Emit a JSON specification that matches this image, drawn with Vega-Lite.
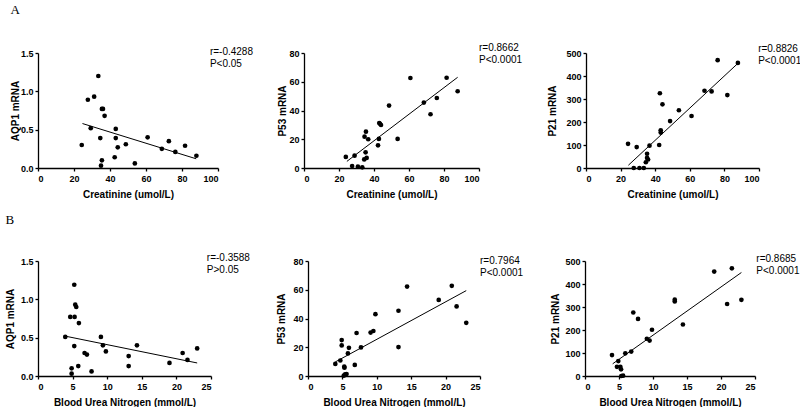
{
"$schema": "https://vega.github.io/schema/vega-lite/v6.json",
"background": "white",
"padding": {"left": 5, "top": 3, "right": 0, "bottom": 0},
"config": {
  "view": {"stroke": null},
  "font": "Liberation Sans",
  "axis": {"grid": false, "domainColor": "black", "tickColor": "black", "domainWidth": 1.3, "tickWidth": 1.3, "tickSize": 3,
    "labelFont": "Liberation Sans", "labelFontWeight": "bold", "labelFontSize": 9, "labelColor": "black", "labelPadding": 2,
    "titleFont": "Liberation Sans", "titleFontWeight": "bold", "titleFontSize": 10, "titleColor": "black"},
  "axisX": {"titlePadding": 5.5, "labelPadding": 3.5},
  "title": {"font": "Liberation Serif", "fontSize": 13, "fontWeight": "normal", "anchor": "start", "color": "black", "offset": 26}
},
"data": {"values": [
{"panel":"A1","kind":"pt","x":24.3,"y":0.30},{"panel":"A1","kind":"pt","x":27.7,"y":0.89},{"panel":"A1","kind":"pt","x":29.3,"y":0.52},{"panel":"A1","kind":"pt","x":31.2,"y":0.93},{"panel":"A1","kind":"pt","x":33.5,"y":1.20},{"panel":"A1","kind":"pt","x":34.6,"y":0.39},{"panel":"A1","kind":"pt","x":35.5,"y":0.77},{"panel":"A1","kind":"pt","x":36.1,"y":0.77},{"panel":"A1","kind":"pt","x":37.0,"y":0.68},{"panel":"A1","kind":"pt","x":35.5,"y":0.10},{"panel":"A1","kind":"pt","x":35.0,"y":0.03},{"panel":"A1","kind":"pt","x":42.6,"y":0.14},{"panel":"A1","kind":"pt","x":43.2,"y":0.51},{"panel":"A1","kind":"pt","x":43.2,"y":0.39},{"panel":"A1","kind":"pt","x":44.3,"y":0.27},{"panel":"A1","kind":"pt","x":48.8,"y":0.31},{"panel":"A1","kind":"pt","x":53.8,"y":0.06},{"panel":"A1","kind":"pt","x":60.9,"y":0.40},{"panel":"A1","kind":"pt","x":68.8,"y":0.25},{"panel":"A1","kind":"pt","x":72.7,"y":0.35},{"panel":"A1","kind":"pt","x":76.3,"y":0.21},{"panel":"A1","kind":"pt","x":81.7,"y":0.29},{"panel":"A1","kind":"pt","x":88.0,"y":0.16},
{"panel":"A1","kind":"ln","x":24.7,"y":0.58},{"panel":"A1","kind":"ln","x":87.9,"y":0.12},
{"panel":"A1","kind":"tx","x":95.5,"y":1.578,"label":["r=-0.4288","P<0.05"]},
{"panel":"A2","kind":"pt","x":23.9,"y":7.7},{"panel":"A2","kind":"pt","x":27.5,"y":1.4},{"panel":"A2","kind":"pt","x":28.9,"y":8.6},{"panel":"A2","kind":"pt","x":30.8,"y":0.9},{"panel":"A2","kind":"pt","x":33.3,"y":0.5},{"panel":"A2","kind":"pt","x":34.6,"y":21.8},{"panel":"A2","kind":"pt","x":35.4,"y":25.3},{"panel":"A2","kind":"pt","x":35.2,"y":10.9},{"panel":"A2","kind":"pt","x":34.4,"y":6.0},{"panel":"A2","kind":"pt","x":35.8,"y":7.0},{"panel":"A2","kind":"pt","x":36.7,"y":20.0},{"panel":"A2","kind":"pt","x":42.3,"y":15.8},{"panel":"A2","kind":"pt","x":42.8,"y":20.2},{"panel":"A2","kind":"pt","x":43.0,"y":31.3},{"panel":"A2","kind":"pt","x":44.0,"y":29.9},{"panel":"A2","kind":"pt","x":43.4,"y":30.8},{"panel":"A2","kind":"pt","x":48.6,"y":43.4},{"panel":"A2","kind":"pt","x":53.5,"y":20.2},{"panel":"A2","kind":"pt","x":60.8,"y":62.6},{"panel":"A2","kind":"pt","x":68.5,"y":45.5},{"panel":"A2","kind":"pt","x":72.3,"y":37.4},{"panel":"A2","kind":"pt","x":75.9,"y":48.7},{"panel":"A2","kind":"pt","x":81.5,"y":62.8},{"panel":"A2","kind":"pt","x":87.8,"y":53.4},
{"panel":"A2","kind":"ln","x":24.5,"y":4.6},{"panel":"A2","kind":"ln","x":87.8,"y":63.1},
{"panel":"A2","kind":"tx","x":100,"y":87.2,"label":["r=0.8662","P<0.0001"]},
{"panel":"A3","kind":"pt","x":24.3,"y":105},{"panel":"A3","kind":"pt","x":27.6,"y":0},{"panel":"A3","kind":"pt","x":29.3,"y":91},{"panel":"A3","kind":"pt","x":30.9,"y":0},{"panel":"A3","kind":"pt","x":33.4,"y":0},{"panel":"A3","kind":"pt","x":34.6,"y":25},{"panel":"A3","kind":"pt","x":35.3,"y":62},{"panel":"A3","kind":"pt","x":35.3,"y":44},{"panel":"A3","kind":"pt","x":35.9,"y":37},{"panel":"A3","kind":"pt","x":36.7,"y":97},{"panel":"A3","kind":"pt","x":42.3,"y":100},{"panel":"A3","kind":"pt","x":42.7,"y":325},{"panel":"A3","kind":"pt","x":43.2,"y":164},{"panel":"A3","kind":"pt","x":43.2,"y":154},{"panel":"A3","kind":"pt","x":44.2,"y":277},{"panel":"A3","kind":"pt","x":48.6,"y":204},{"panel":"A3","kind":"pt","x":53.7,"y":251},{"panel":"A3","kind":"pt","x":61.0,"y":226},{"panel":"A3","kind":"pt","x":68.5,"y":336},{"panel":"A3","kind":"pt","x":72.6,"y":333},{"panel":"A3","kind":"pt","x":76.1,"y":469},{"panel":"A3","kind":"pt","x":81.7,"y":317},{"panel":"A3","kind":"pt","x":87.8,"y":457},
{"panel":"A3","kind":"ln","x":24.5,"y":12},{"panel":"A3","kind":"ln","x":87.8,"y":455},
{"panel":"A3","kind":"tx","x":99.5,"y":540,"label":["r=0.8826","P<0.0001"]},
{"panel":"B1","kind":"pt","x":3.94,"y":0.51},{"panel":"B1","kind":"pt","x":4.66,"y":0.77},{"panel":"B1","kind":"pt","x":5.29,"y":0.77},{"panel":"B1","kind":"pt","x":5.24,"y":1.19},{"panel":"B1","kind":"pt","x":5.38,"y":0.93},{"panel":"B1","kind":"pt","x":5.53,"y":0.90},{"panel":"B1","kind":"pt","x":5.91,"y":0.69},{"panel":"B1","kind":"pt","x":5.24,"y":0.39},{"panel":"B1","kind":"pt","x":4.86,"y":0.10},{"panel":"B1","kind":"pt","x":4.86,"y":0.03},{"panel":"B1","kind":"pt","x":5.82,"y":0.13},{"panel":"B1","kind":"pt","x":6.73,"y":0.30},{"panel":"B1","kind":"pt","x":7.07,"y":0.28},{"panel":"B1","kind":"pt","x":7.74,"y":0.06},{"panel":"B1","kind":"pt","x":9.09,"y":0.51},{"panel":"B1","kind":"pt","x":9.38,"y":0.40},{"panel":"B1","kind":"pt","x":9.81,"y":0.32},{"panel":"B1","kind":"pt","x":13.1,"y":0.26},{"panel":"B1","kind":"pt","x":13.1,"y":0.13},{"panel":"B1","kind":"pt","x":14.3,"y":0.40},{"panel":"B1","kind":"pt","x":19.0,"y":0.17},{"panel":"B1","kind":"pt","x":20.9,"y":0.30},{"panel":"B1","kind":"pt","x":21.6,"y":0.21},{"panel":"B1","kind":"pt","x":23.0,"y":0.36},
{"panel":"B1","kind":"ln","x":3.94,"y":0.52},{"panel":"B1","kind":"ln","x":23.0,"y":0.17},
{"panel":"B1","kind":"tx","x":24.4,"y":1.599,"label":["r=-0.3588","P>0.05"]},
{"panel":"B2","kind":"pt","x":3.97,"y":8.4},{"panel":"B2","kind":"pt","x":4.7,"y":10.8},{"panel":"B2","kind":"pt","x":4.9,"y":25.0},{"panel":"B2","kind":"pt","x":4.9,"y":21.3},{"panel":"B2","kind":"pt","x":5.27,"y":6.5},{"panel":"B2","kind":"pt","x":5.3,"y":5.8},{"panel":"B2","kind":"pt","x":5.2,"y":0.2},{"panel":"B2","kind":"pt","x":5.4,"y":1.2},{"panel":"B2","kind":"pt","x":5.6,"y":1.4},{"panel":"B2","kind":"pt","x":5.8,"y":15.7},{"panel":"B2","kind":"pt","x":5.95,"y":19.6},{"panel":"B2","kind":"pt","x":6.8,"y":7.7},{"panel":"B2","kind":"pt","x":7.06,"y":29.9},{"panel":"B2","kind":"pt","x":7.7,"y":19.9},{"panel":"B2","kind":"pt","x":9.1,"y":30.2},{"panel":"B2","kind":"pt","x":9.5,"y":31.3},{"panel":"B2","kind":"pt","x":9.8,"y":43.0},{"panel":"B2","kind":"pt","x":13.15,"y":45.4},{"panel":"B2","kind":"pt","x":13.15,"y":20.1},{"panel":"B2","kind":"pt","x":14.4,"y":62.2},{"panel":"B2","kind":"pt","x":19.0,"y":52.9},{"panel":"B2","kind":"pt","x":20.9,"y":62.7},{"panel":"B2","kind":"pt","x":21.6,"y":48.4},{"panel":"B2","kind":"pt","x":23.0,"y":37.0},
{"panel":"B2","kind":"ln","x":3.97,"y":9.8},{"panel":"B2","kind":"ln","x":23.0,"y":59.4},
{"panel":"B2","kind":"tx","x":25,"y":83.2,"label":["r=0.7964","P<0.0001"]},
{"panel":"B3","kind":"pt","x":3.97,"y":91},{"panel":"B3","kind":"pt","x":4.9,"y":65},{"panel":"B3","kind":"pt","x":4.7,"y":40},{"panel":"B3","kind":"pt","x":5.2,"y":40},{"panel":"B3","kind":"pt","x":5.3,"y":29},{"panel":"B3","kind":"pt","x":5.34,"y":0},{"panel":"B3","kind":"pt","x":5.6,"y":1.5},{"panel":"B3","kind":"pt","x":5.93,"y":98.5},{"panel":"B3","kind":"pt","x":6.8,"y":106},{"panel":"B3","kind":"pt","x":7.1,"y":276},{"panel":"B3","kind":"pt","x":7.8,"y":248},{"panel":"B3","kind":"pt","x":9.1,"y":162},{"panel":"B3","kind":"pt","x":9.5,"y":154},{"panel":"B3","kind":"pt","x":9.85,"y":201},{"panel":"B3","kind":"pt","x":13.2,"y":332},{"panel":"B3","kind":"pt","x":13.2,"y":324},{"panel":"B3","kind":"pt","x":14.4,"y":224},{"panel":"B3","kind":"pt","x":19.0,"y":454},{"panel":"B3","kind":"pt","x":20.9,"y":313},{"panel":"B3","kind":"pt","x":21.6,"y":468},{"panel":"B3","kind":"pt","x":23.0,"y":331},
{"panel":"B3","kind":"ln","x":4.07,"y":53},{"panel":"B3","kind":"ln","x":23.0,"y":450},
{"panel":"B3","kind":"tx","x":25.2,"y":530.7,"label":["r=0.8685","P<0.0001"]}
]},
"spacing": 15,
"vconcat": [
 {"title": {"text": "A"},
  "spacing": 24,
  "hconcat": [
     {"width": 180, "height": 115,
      "transform": [{"filter": "datum.panel === 'A1'"}],
      "encoding": {
        "x": {"field": "x", "type": "quantitative", "scale": {"domain": [0, 100], "nice": false}, "axis": {"title": "Creatinine (umol/L)", "values": [0, 20, 40, 60, 80, 100]}},
        "y": {"field": "y", "type": "quantitative", "scale": {"domain": [0, 1.5], "nice": false}, "axis": {"title": "AQP1 mRNA", "values": [0, 0.5, 1, 1.5], "format": ".1f", "titlePadding": 0}}
      },
      "layer": [
        {"transform": [{"filter": "datum.kind === 'pt'"}], "mark": {"type": "circle", "size": 22, "color": "black", "opacity": 1}},
        {"transform": [{"filter": "datum.kind === 'ln'"}], "mark": {"type": "line", "color": "black", "strokeWidth": 1}},
        {"transform": [{"filter": "datum.kind === 'tx'"}], "mark": {"type": "text", "align": "left", "baseline": "top", "fontSize": 10, "lineHeight": 12, "font": "Liberation Sans", "color": "black"}, "encoding": {"text": {"field": "label"}}}
      ]},
     {"width": 175, "height": 115,
      "transform": [{"filter": "datum.panel === 'A2'"}],
      "encoding": {
        "x": {"field": "x", "type": "quantitative", "scale": {"domain": [0, 100], "nice": false}, "axis": {"title": "Creatinine (umol/L)", "values": [0, 20, 40, 60, 80, 100]}},
        "y": {"field": "y", "type": "quantitative", "scale": {"domain": [0, 80], "nice": false}, "axis": {"title": "P53 mRNA", "values": [0, 20, 40, 60, 80], "titlePadding": 1}}
      },
      "layer": [
        {"transform": [{"filter": "datum.kind === 'pt'"}], "mark": {"type": "circle", "size": 22, "color": "black", "opacity": 1}},
        {"transform": [{"filter": "datum.kind === 'ln'"}], "mark": {"type": "line", "color": "black", "strokeWidth": 1}},
        {"transform": [{"filter": "datum.kind === 'tx'"}], "mark": {"type": "text", "align": "left", "baseline": "top", "fontSize": 10, "lineHeight": 12, "font": "Liberation Sans", "color": "black"}, "encoding": {"text": {"field": "label"}}}
      ]},
   {"width": 173, "height": 115,
    "transform": [{"filter": "datum.panel === 'A3'"}],
    "encoding": {
      "x": {"field": "x", "type": "quantitative", "scale": {"domain": [0, 100], "nice": false}, "axis": {"title": "Creatinine (umol/L)", "values": [0, 20, 40, 60, 80, 100]}},
      "y": {"field": "y", "type": "quantitative", "scale": {"domain": [0, 500], "nice": false}, "axis": {"title": "P21 mRNA", "values": [0, 100, 200, 300, 400, 500], "titlePadding": 8}}
    },
    "layer": [
      {"transform": [{"filter": "datum.kind === 'pt'"}], "mark": {"type": "circle", "size": 22, "color": "black", "opacity": 1}},
      {"transform": [{"filter": "datum.kind === 'ln'"}], "mark": {"type": "line", "color": "black", "strokeWidth": 1}},
      {"transform": [{"filter": "datum.kind === 'tx'"}], "mark": {"type": "text", "align": "left", "baseline": "top", "fontSize": 10, "lineHeight": 12, "font": "Liberation Sans", "color": "black"}, "encoding": {"text": {"field": "label"}}}
    ]}
  ]},
 {"title": {"text": "B"},
  "spacing": 26,
  "hconcat": [
     {"width": 173, "height": 115,
      "transform": [{"filter": "datum.panel === 'B1'"}],
      "encoding": {
        "x": {"field": "x", "type": "quantitative", "scale": {"domain": [0, 25], "nice": false}, "axis": {"title": "Blood Urea Nitrogen (mmol/L)", "values": [0, 5, 10, 15, 20, 25]}},
        "y": {"field": "y", "type": "quantitative", "scale": {"domain": [0, 1.5], "nice": false}, "axis": {"title": "AQP1 mRNA", "values": [0, 0.5, 1, 1.5], "format": ".1f", "titlePadding": 5}}
      },
      "layer": [
        {"transform": [{"filter": "datum.kind === 'pt'"}], "mark": {"type": "circle", "size": 22, "color": "black", "opacity": 1}},
        {"transform": [{"filter": "datum.kind === 'ln'"}], "mark": {"type": "line", "color": "black", "strokeWidth": 1}},
        {"transform": [{"filter": "datum.kind === 'tx'"}], "mark": {"type": "text", "align": "left", "baseline": "top", "fontSize": 10, "lineHeight": 12, "font": "Liberation Sans", "color": "black"}, "encoding": {"text": {"field": "label"}}}
      ]},
     {"width": 172, "height": 115,
      "transform": [{"filter": "datum.panel === 'B2'"}],
      "encoding": {
        "x": {"field": "x", "type": "quantitative", "scale": {"domain": [0, 25], "nice": false}, "axis": {"title": "Blood Urea Nitrogen (mmol/L)", "values": [0, 5, 10, 15, 20, 25]}},
        "y": {"field": "y", "type": "quantitative", "scale": {"domain": [0, 80], "nice": false}, "axis": {"title": "P53 mRNA", "values": [0, 20, 40, 60, 80], "titlePadding": 6}}
      },
      "layer": [
        {"transform": [{"filter": "datum.kind === 'pt'"}], "mark": {"type": "circle", "size": 22, "color": "black", "opacity": 1}},
        {"transform": [{"filter": "datum.kind === 'ln'"}], "mark": {"type": "line", "color": "black", "strokeWidth": 1}},
        {"transform": [{"filter": "datum.kind === 'tx'"}], "mark": {"type": "text", "align": "left", "baseline": "top", "fontSize": 10, "lineHeight": 12, "font": "Liberation Sans", "color": "black"}, "encoding": {"text": {"field": "label"}}}
      ]},
   {"width": 170, "height": 115,
    "transform": [{"filter": "datum.panel === 'B3'"}],
    "encoding": {
      "x": {"field": "x", "type": "quantitative", "scale": {"domain": [0, 25], "nice": false}, "axis": {"title": "Blood Urea Nitrogen (mmol/L)", "values": [0, 5, 10, 15, 20, 25]}},
      "y": {"field": "y", "type": "quantitative", "scale": {"domain": [0, 500], "nice": false}, "axis": {"title": "P21 mRNA", "values": [0, 100, 200, 300, 400, 500], "titlePadding": 4}}
    },
    "layer": [
      {"transform": [{"filter": "datum.kind === 'pt'"}], "mark": {"type": "circle", "size": 22, "color": "black", "opacity": 1}},
      {"transform": [{"filter": "datum.kind === 'ln'"}], "mark": {"type": "line", "color": "black", "strokeWidth": 1}},
      {"transform": [{"filter": "datum.kind === 'tx'"}], "mark": {"type": "text", "align": "left", "baseline": "top", "fontSize": 10, "lineHeight": 12, "font": "Liberation Sans", "color": "black"}, "encoding": {"text": {"field": "label"}}}
    ]}
  ]}
]
}
